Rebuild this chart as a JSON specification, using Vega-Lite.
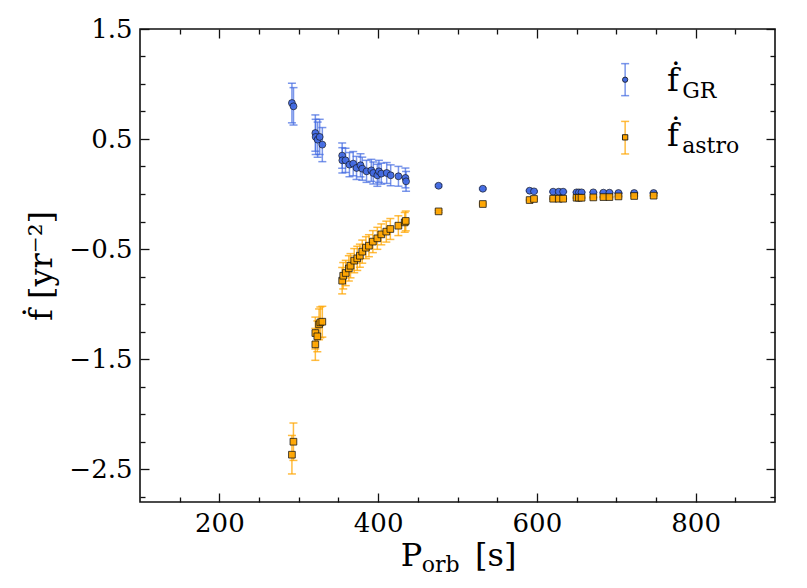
{
  "$schema": "https://vega.github.io/schema/vega-lite/v6.json",
  "width": 635,
  "height": 473,
  "autosize": {"type": "none"},
  "padding": {"left": 140, "top": 29, "right": 32, "bottom": 86},
  "background": "white",
  "config": {
    "view": {"stroke": "#111111", "strokeWidth": 1.6},
    "font": "DejaVu Serif",
    "axis": {
      "labelFont": "DejaVu Serif",
      "titleFont": "DejaVu Serif",
      "labelColor": "black",
      "titleColor": "black",
      "labelFontSize": 26,
      "titleFontWeight": "normal",
      "grid": false,
      "domain": false,
      "tickColor": "#111111",
      "tickWidth": 1.3
    }
  },
  "datasets": {
    "one": [{}],
    "gr": [
      {"P": 291.4, "f": 0.827, "err": 0.18},
      {"P": 293.4, "f": 0.797, "err": 0.17},
      {"P": 320.9, "f": 0.554, "err": 0.165},
      {"P": 321.3, "f": 0.519, "err": 0.16},
      {"P": 323.8, "f": 0.494, "err": 0.16},
      {"P": 326.4, "f": 0.519, "err": 0.16},
      {"P": 329.7, "f": 0.449, "err": 0.155},
      {"P": 354.7, "f": 0.349, "err": 0.115},
      {"P": 354.9, "f": 0.306, "err": 0.115},
      {"P": 358.9, "f": 0.306, "err": 0.11},
      {"P": 363.9, "f": 0.267, "err": 0.11},
      {"P": 368.6, "f": 0.276, "err": 0.11},
      {"P": 372.8, "f": 0.237, "err": 0.105},
      {"P": 377.8, "f": 0.261, "err": 0.105},
      {"P": 380.0, "f": 0.23, "err": 0.105},
      {"P": 385.4, "f": 0.206, "err": 0.1},
      {"P": 391.4, "f": 0.215, "err": 0.1},
      {"P": 393.9, "f": 0.191, "err": 0.1},
      {"P": 399.0, "f": 0.17, "err": 0.1},
      {"P": 401.0, "f": 0.206, "err": 0.1},
      {"P": 404.0, "f": 0.185, "err": 0.095},
      {"P": 410.8, "f": 0.191, "err": 0.095},
      {"P": 415.8, "f": 0.17, "err": 0.095},
      {"P": 425.6, "f": 0.161, "err": 0.09},
      {"P": 434.4, "f": 0.146, "err": 0.09},
      {"P": 435.2, "f": 0.115, "err": 0.09},
      {"P": 476.2, "f": 0.075, "err": 0.01},
      {"P": 531.9, "f": 0.048, "err": 0.008},
      {"P": 590.9, "f": 0.03, "err": 0.006},
      {"P": 596.4, "f": 0.024, "err": 0.006},
      {"P": 620.5, "f": 0.021, "err": 0.005},
      {"P": 627.6, "f": 0.021, "err": 0.005},
      {"P": 633.1, "f": 0.021, "err": 0.005},
      {"P": 650.0, "f": 0.015, "err": 0.005},
      {"P": 653.0, "f": 0.015, "err": 0.005},
      {"P": 656.3, "f": 0.015, "err": 0.005},
      {"P": 671.1, "f": 0.015, "err": 0.004},
      {"P": 683.8, "f": 0.012, "err": 0.004},
      {"P": 691.4, "f": 0.012, "err": 0.004},
      {"P": 702.8, "f": 0.009, "err": 0.004},
      {"P": 722.6, "f": 0.009, "err": 0.004},
      {"P": 747.1, "f": 0.009, "err": 0.004}
    ],
    "astro": [
      {"P": 291.4, "f": -2.37, "err": 0.175},
      {"P": 293.3, "f": -2.252, "err": 0.17},
      {"P": 320.9, "f": -1.367, "err": 0.145},
      {"P": 320.9, "f": -1.264, "err": 0.145},
      {"P": 323.4, "f": -1.294, "err": 0.14},
      {"P": 325.6, "f": -1.185, "err": 0.14},
      {"P": 327.2, "f": -1.167, "err": 0.14},
      {"P": 329.7, "f": -1.161, "err": 0.14},
      {"P": 354.7, "f": -0.788, "err": 0.12},
      {"P": 356.0, "f": -0.743, "err": 0.12},
      {"P": 359.2, "f": -0.718, "err": 0.115},
      {"P": 363.1, "f": -0.676, "err": 0.115},
      {"P": 365.2, "f": -0.652, "err": 0.11},
      {"P": 369.9, "f": -0.606, "err": 0.11},
      {"P": 373.7, "f": -0.585, "err": 0.11},
      {"P": 377.0, "f": -0.561, "err": 0.105},
      {"P": 380.0, "f": -0.524, "err": 0.105},
      {"P": 384.6, "f": -0.488, "err": 0.1},
      {"P": 388.4, "f": -0.47, "err": 0.1},
      {"P": 393.4, "f": -0.433, "err": 0.1},
      {"P": 399.0, "f": -0.403, "err": 0.1},
      {"P": 404.0, "f": -0.367, "err": 0.095},
      {"P": 410.3, "f": -0.342, "err": 0.095},
      {"P": 415.4, "f": -0.318, "err": 0.095},
      {"P": 425.5, "f": -0.288, "err": 0.09},
      {"P": 433.5, "f": -0.258, "err": 0.09},
      {"P": 434.8, "f": -0.245, "err": 0.09},
      {"P": 476.2, "f": -0.158, "err": 0.01},
      {"P": 531.9, "f": -0.091, "err": 0.008},
      {"P": 590.9, "f": -0.055, "err": 0.006},
      {"P": 596.4, "f": -0.045, "err": 0.006},
      {"P": 620.5, "f": -0.043, "err": 0.005},
      {"P": 627.6, "f": -0.043, "err": 0.005},
      {"P": 633.1, "f": -0.043, "err": 0.005},
      {"P": 650.0, "f": -0.034, "err": 0.005},
      {"P": 653.0, "f": -0.034, "err": 0.005},
      {"P": 656.3, "f": -0.034, "err": 0.005},
      {"P": 671.1, "f": -0.031, "err": 0.004},
      {"P": 683.8, "f": -0.028, "err": 0.004},
      {"P": 691.4, "f": -0.028, "err": 0.004},
      {"P": 702.8, "f": -0.022, "err": 0.004},
      {"P": 722.6, "f": -0.018, "err": 0.004},
      {"P": 747.1, "f": -0.015, "err": 0.004}
    ]
  },
  "resolve": {"axis": {"x": "independent", "y": "independent"}},
  "layer": [
    {
      "data": {"name": "gr"},
      "mark": {"type": "errorbar", "color": "#4169E1", "opacity": 0.7, "thickness": 1.5, "ticks": {"size": 8, "thickness": 1.5}},
      "encoding": {
        "x": {"field": "P", "type": "quantitative", "scale": {"domain": [100, 900], "nice": false, "zero": false},
          "axis": {"orient": "bottom", "values": [200, 400, 600, 800], "format": "d", "tickSize": -9, "labelPadding": 17, "title": null}},
        "y": {"field": "f", "type": "quantitative", "scale": {"domain": [-2.8, 1.5], "nice": false, "zero": false},
          "axis": {"orient": "left", "values": [1.5, 0.5, -0.5, -1.5, -2.5], "format": ".1f", "tickSize": -9, "labelPadding": 17,
            "title": "ḟ [yr⁻²]", "titleFontSize": 32, "titlePadding": 10}},
        "yError": {"field": "err"}
      }
    },
    {
      "data": {"name": "astro"},
      "mark": {"type": "errorbar", "color": "#FFA500", "opacity": 0.75, "thickness": 1.5, "ticks": {"size": 8, "thickness": 1.5}},
      "encoding": {
        "x": {"field": "P", "type": "quantitative", "scale": {"domain": [100, 900], "nice": false, "zero": false},
          "axis": {"orient": "bottom", "values": [150, 250, 300, 350, 450, 500, 550, 650, 700, 750, 850], "tickSize": -5, "labels": false, "title": null}},
        "y": {"field": "f", "type": "quantitative", "scale": {"domain": [-2.8, 1.5], "nice": false, "zero": false},
          "axis": {"orient": "left", "values": [1.25, 1, 0.75, 0.25, 0, -0.25, -0.75, -1, -1.25, -1.75, -2, -2.25, -2.75], "tickSize": -5, "labels": false, "title": null}},
        "yError": {"field": "err"}
      }
    },
    {
      "data": {"name": "gr"},
      "mark": {"type": "circle", "size": 48, "fill": "#4169E1", "fillOpacity": 0.95, "stroke": "#111111", "strokeWidth": 0.8, "strokeOpacity": 0.8},
      "encoding": {
        "x": {"field": "P", "type": "quantitative", "scale": {"domain": [100, 900], "nice": false, "zero": false},
          "axis": {"orient": "top", "values": [200, 400, 600, 800], "tickSize": -9, "labels": false, "title": null}},
        "y": {"field": "f", "type": "quantitative", "scale": {"domain": [-2.8, 1.5], "nice": false, "zero": false},
          "axis": {"orient": "right", "values": [1.5, 0.5, -0.5, -1.5, -2.5], "tickSize": -9, "labels": false, "title": null}}
      }
    },
    {
      "data": {"name": "astro"},
      "mark": {"type": "square", "size": 45, "fill": "#FFA500", "fillOpacity": 0.95, "stroke": "#111111", "strokeWidth": 0.9, "strokeOpacity": 0.85},
      "encoding": {
        "x": {"field": "P", "type": "quantitative", "scale": {"domain": [100, 900], "nice": false, "zero": false},
          "axis": {"orient": "top", "values": [150, 250, 300, 350, 450, 500, 550, 650, 700, 750, 850], "tickSize": -5, "labels": false, "title": null}},
        "y": {"field": "f", "type": "quantitative", "scale": {"domain": [-2.8, 1.5], "nice": false, "zero": false},
          "axis": {"orient": "right", "values": [1.25, 1, 0.75, 0.25, 0, -0.25, -0.75, -1, -1.25, -1.75, -2, -2.25, -2.75], "tickSize": -5, "labels": false, "title": null}}
      }
    },
    {
      "data": {"name": "one"},
      "mark": {"type": "rule", "color": "#4169E1", "opacity": 0.7, "strokeWidth": 1.5},
      "encoding": {
        "x": {"datum": 711.2, "type": "quantitative", "axis": null},
        "y": {"datum": 0.894, "type": "quantitative", "axis": null},
        "y2": {"datum": 1.185}
      }
    },
    {
      "data": {"name": "one"},
      "mark": {"type": "tick", "orient": "horizontal", "size": 8, "thickness": 1.5, "color": "#4169E1", "opacity": 0.7},
      "encoding": {
        "x": {"datum": 711.2, "type": "quantitative", "axis": null},
        "y": {"datum": 0.894, "type": "quantitative", "axis": null}
      }
    },
    {
      "data": {"name": "one"},
      "mark": {"type": "tick", "orient": "horizontal", "size": 8, "thickness": 1.5, "color": "#4169E1", "opacity": 0.7},
      "encoding": {
        "x": {"datum": 711.2, "type": "quantitative", "axis": null},
        "y": {"datum": 1.185, "type": "quantitative", "axis": null}
      }
    },
    {
      "data": {"name": "one"},
      "mark": {"type": "circle", "size": 28, "fill": "#4169E1", "fillOpacity": 1, "stroke": "#111111", "strokeWidth": 0.8},
      "encoding": {
        "x": {"datum": 711.2, "type": "quantitative", "axis": null},
        "y": {"datum": 1.039, "type": "quantitative", "axis": null}
      }
    },
    {
      "data": {"name": "one"},
      "mark": {"type": "rule", "color": "#FFA500", "opacity": 0.75, "strokeWidth": 1.5},
      "encoding": {
        "x": {"datum": 711.2, "type": "quantitative", "axis": null},
        "y": {"datum": 0.364, "type": "quantitative", "axis": null},
        "y2": {"datum": 0.66}
      }
    },
    {
      "data": {"name": "one"},
      "mark": {"type": "tick", "orient": "horizontal", "size": 8, "thickness": 1.5, "color": "#FFA500", "opacity": 0.75},
      "encoding": {
        "x": {"datum": 711.2, "type": "quantitative", "axis": null},
        "y": {"datum": 0.364, "type": "quantitative", "axis": null}
      }
    },
    {
      "data": {"name": "one"},
      "mark": {"type": "tick", "orient": "horizontal", "size": 8, "thickness": 1.5, "color": "#FFA500", "opacity": 0.75},
      "encoding": {
        "x": {"datum": 711.2, "type": "quantitative", "axis": null},
        "y": {"datum": 0.66, "type": "quantitative", "axis": null}
      }
    },
    {
      "data": {"name": "one"},
      "mark": {"type": "square", "size": 28, "fill": "#FFA500", "fillOpacity": 1, "stroke": "#111111", "strokeWidth": 0.9},
      "encoding": {
        "x": {"datum": 711.2, "type": "quantitative", "axis": null},
        "y": {"datum": 0.515, "type": "quantitative", "axis": null}
      }
    },
    {
      "data": {"name": "one"},
      "mark": {"type": "text", "text": "ḟ", "font": "DejaVu Serif", "fontSize": 32, "align": "left", "baseline": "alphabetic", "color": "black"},
      "encoding": {
        "x": {"datum": 764, "type": "quantitative", "axis": null},
        "y": {"datum": 0.935, "type": "quantitative", "axis": null}
      }
    },
    {
      "data": {"name": "one"},
      "mark": {"type": "text", "text": "GR", "font": "DejaVu Serif", "fontSize": 22, "align": "left", "baseline": "alphabetic", "color": "black"},
      "encoding": {
        "x": {"datum": 783, "type": "quantitative", "axis": null},
        "y": {"datum": 0.873, "type": "quantitative", "axis": null}
      }
    },
    {
      "data": {"name": "one"},
      "mark": {"type": "text", "text": "ḟ", "font": "DejaVu Serif", "fontSize": 32, "align": "left", "baseline": "alphabetic", "color": "black"},
      "encoding": {
        "x": {"datum": 764, "type": "quantitative", "axis": null},
        "y": {"datum": 0.439, "type": "quantitative", "axis": null}
      }
    },
    {
      "data": {"name": "one"},
      "mark": {"type": "text", "text": "astro", "font": "DejaVu Serif", "fontSize": 22, "align": "left", "baseline": "alphabetic", "color": "black"},
      "encoding": {
        "x": {"datum": 783, "type": "quantitative", "axis": null},
        "y": {"datum": 0.373, "type": "quantitative", "axis": null}
      }
    },
    {
      "data": {"name": "one"},
      "mark": {"type": "text", "text": "P", "font": "DejaVu Serif", "fontSize": 32, "align": "left", "baseline": "alphabetic", "color": "black"},
      "encoding": {
        "x": {"datum": 428.4, "type": "quantitative", "axis": null},
        "y": {"datum": -3.385, "type": "quantitative", "axis": null}
      }
    },
    {
      "data": {"name": "one"},
      "mark": {"type": "text", "text": "orb", "font": "DejaVu Serif", "fontSize": 22, "align": "left", "baseline": "alphabetic", "color": "black"},
      "encoding": {
        "x": {"datum": 454.9, "type": "quantitative", "axis": null},
        "y": {"datum": -3.44, "type": "quantitative", "axis": null}
      }
    },
    {
      "data": {"name": "one"},
      "mark": {"type": "text", "text": "[s]", "font": "DejaVu Serif", "fontSize": 32, "align": "left", "baseline": "alphabetic", "color": "black"},
      "encoding": {
        "x": {"datum": 522.1, "type": "quantitative", "axis": null},
        "y": {"datum": -3.385, "type": "quantitative", "axis": null}
      }
    }
  ]
}
